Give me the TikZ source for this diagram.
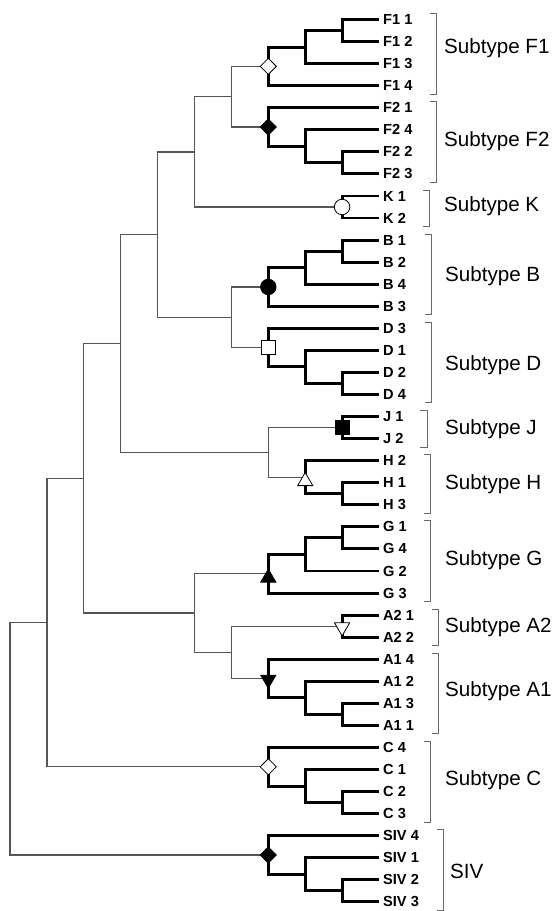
\documentclass[tikz,border=0pt]{standalone}
\usepackage{fontspec}
\setmainfont{Liberation Sans}
\usetikzlibrary{shapes.geometric}

\definecolor{gristree}{RGB}{85,85,85}
\definecolor{grisllave}{RGB}{105,105,105}

\tikzset{
  rama/.style={draw=gristree, line width=1.3pt},
  grupo/.style={draw=black, line width=2.9pt},
  hoja/.style={anchor=west, inner sep=0pt, font=\fontsize{14.6}{16}\selectfont\bfseries},
  subtipo/.style={anchor=west, inner sep=0pt, font=\fontsize{20.6}{22}\selectfont},
  llave/.style={draw=grisllave, line width=1pt},
  marca/.style={draw=black, line width=0.8pt, inner sep=0pt},
  rombo/.style={marca, diamond, minimum size=16.5pt},
  bola/.style={marca, circle, minimum size=15.5pt},
  cuadro/.style={marca, rectangle, minimum size=14pt},
  triup/.style={marca, regular polygon, regular polygon sides=3, minimum size=17.5pt, yshift=-4pt},
  tridown/.style={marca, regular polygon, regular polygon sides=3, minimum size=17.5pt, shape border rotate=180, yshift=-1pt}
}

\begin{document}
\begin{tikzpicture}[x=1pt, y=-22.06pt]
    \useasboundingbox (0,-0.884) rectangle (553,40.413);

    % Hojas del arbol y sus nombres
    \foreach \nm/\lb [count=\i from 0] in {F1-1/F1 1, F1-2/F1 2, F1-3/F1 3, F1-4/F1 4,
        F2-1/F2 1, F2-4/F2 4, F2-2/F2 2, F2-3/F2 3, K-1/K 1, K-2/K 2,
        B-1/B 1, B-2/B 2, B-4/B 4, B-3/B 3, D-3/D 3, D-1/D 1, D-2/D 2, D-4/D 4,
        J-1/J 1, J-2/J 2, H-2/H 2, H-1/H 1, H-3/H 3,
        G-1/G 1, G-4/G 4, G-2/G 2, G-3/G 3, A2-1/A2 1, A2-2/A2 2,
        A1-4/A1 4, A1-2/A1 2, A1-3/A1 3, A1-1/A1 1, C-4/C 4, C-1/C 1, C-2/C 2, C-3/C 3,
        SIV-4/SIV 4, SIV-1/SIV 1, SIV-2/SIV 2, SIV-3/SIV 3} {
      \coordinate (\nm) at (379,\i);
      \node[hoja] (l\nm) at (383,\i) {\lb};
    }

    % Nodos internos: subtipo F1, F2 y K
    \coordinate (f1c) at (342.1,0.5);
    \coordinate (f1b) at (305.2,1.25);
    \coordinate (F1) at (268.3,2.125);
    \coordinate (f2c) at (342.1,6.5);
    \coordinate (f2b) at (305.2,5.75);
    \coordinate (F2) at (268.3,4.875);
    \coordinate (FF) at (231.4,3.5);
    \coordinate (K) at (342.1,8.5);
    \coordinate (FK) at (194.5,6);

    % Subtipo B y D
    \coordinate (bc) at (342.1,10.5);
    \coordinate (bb) at (305.2,11.25);
    \coordinate (B) at (268.3,12.125);
    \coordinate (dc) at (342.1,16.5);
    \coordinate (db) at (305.2,15.75);
    \coordinate (D) at (268.3,14.875);
    \coordinate (BD) at (231.4,13.5);
    \coordinate (FKBD) at (157.6,9.75);

    % Subtipo J y H
    \coordinate (J) at (342.1,18.5);
    \coordinate (hc) at (342.1,21.5);
    \coordinate (H) at (305.2,20.75);
    \coordinate (JH) at (268.3,19.625);
    \coordinate (n3) at (120.7,14.6875);

    % Subtipo G, A2 y A1
    \coordinate (gc) at (342.1,23.5);
    \coordinate (gb) at (305.2,24.25);
    \coordinate (G) at (268.3,25.125);
    \coordinate (A2) at (342.1,27.5);
    \coordinate (ac) at (342.1,31.5);
    \coordinate (ab) at (305.2,30.75);
    \coordinate (A1) at (268.3,29.875);
    \coordinate (A) at (231.4,28.6875);
    \coordinate (GA) at (194.5,26.90625);
    \coordinate (n2) at (83.8,20.796875);

    % Subtipo C, SIV y la raiz
    \coordinate (cc) at (342.1,35.5);
    \coordinate (cb) at (305.2,34.75);
    \coordinate (C) at (268.3,33.875);
    \coordinate (n1) at (46.9,27.3359);
    \coordinate (sc) at (342.1,39.5);
    \coordinate (sb) at (305.2,38.75);
    \coordinate (SIV) at (268.3,37.875);
    \coordinate (raiz) at (10,32.6055);

    % Ramas finas entre subtipos
    \foreach \p/\h in {raiz/n1, raiz/SIV, n1/n2, n1/C, n2/n3, n2/GA, n3/FKBD, n3/JH,
        FKBD/FK, FKBD/BD, FK/FF, FK/K, FF/F1, FF/F2, BD/B, BD/D,
        JH/J, JH/H, GA/G, GA/A, A/A2, A/A1}
      \draw[rama] (\p) |- (\h);

    % Ramas gruesas dentro de cada subtipo
    \foreach \p/\h in {F1/f1b, F1/F1-4, f1b/f1c, f1b/F1-3, f1c/F1-1, f1c/F1-2,
        F2/F2-1, F2/f2b, f2b/F2-4, f2b/f2c, f2c/F2-2, f2c/F2-3,
        K/K-1, K/K-2,
        B/bb, B/B-3, bb/bc, bb/B-4, bc/B-1, bc/B-2,
        D/D-3, D/db, db/D-1, db/dc, dc/D-2, dc/D-4,
        J/J-1, J/J-2, H/H-2, H/hc, hc/H-1, hc/H-3,
        G/gb, G/G-3, gb/gc, gb/G-2, gc/G-1, gc/G-4,
        A2/A2-1, A2/A2-2,
        A1/A1-4, A1/ab, ab/A1-2, ab/ac, ac/A1-3, ac/A1-1,
        C/C-4, C/cb, cb/C-1, cb/cc, cc/C-2, cc/C-3,
        SIV/SIV-4, SIV/sb, sb/SIV-1, sb/sc, sc/SIV-2, sc/SIV-3}
      \draw[grupo] (\p) |- (\h);

    % Marcas en la raiz de cada subtipo
    \node[rombo, fill=white] (mF1) at (F1) {};
    \node[rombo, fill=black] (mF2) at (F2) {};
    \node[bola, fill=white] (mK) at (K) {};
    \node[bola, fill=black] (mB) at (B) {};
    \node[cuadro, fill=white] (mD) at (D) {};
    \node[cuadro, fill=black] (mJ) at (J) {};
    \node[triup, fill=white] (mH) at (H) {};
    \node[triup, fill=black] (mG) at (G) {};
    \node[tridown, fill=white] (mA2) at (A2) {};
    \node[tridown, fill=black] (mA1) at (A1) {};
    \node[rombo, fill=white] (mC) at (C) {};
    \node[rombo, fill=black] (mSIV) at (SIV) {};

    % Llaves de cada subtipo
    \foreach \x/\a/\b in {436.7/0/3, 436.7/4/7, 430/8/9, 431.7/10/13, 431.7/14/17,
        427.3/18/19, 431/20/22, 431/23/26, 439/27/28, 439/29/32, 431/33/36, 444/37/40}
      \draw[llave] (\x-7,\a-0.27) -- (\x,\a-0.27) -- (\x,\b+0.38) -- (\x-7,\b+0.38);

    % Etiquetas de los subtipos
    \node[subtipo] (tF1) at (444,1.3) {Subtype F1};
    \node[subtipo] (tF2) at (444,5.5) {Subtype F2};
    \node[subtipo] (tK) at (444,8.45) {Subtype K};
    \node[subtipo] (tB) at (445,11.65) {Subtype B};
    \node[subtipo] (tD) at (445,15.65) {Subtype D};
    \node[subtipo] (tJ) at (445,18.55) {Subtype J};
    \node[subtipo] (tH) at (445,21.05) {Subtype H};
    \node[subtipo] (tG) at (445,24.5) {Subtype G};
    \node[subtipo] (tA2) at (445,27.55) {Subtype A2};
    \node[subtipo] (tA1) at (445,30.45) {Subtype A1};
    \node[subtipo] (tC) at (445,34.5) {Subtype C};
    \node[subtipo] (tSIV) at (450,38.6) {SIV};
\end{tikzpicture}
\end{document}
